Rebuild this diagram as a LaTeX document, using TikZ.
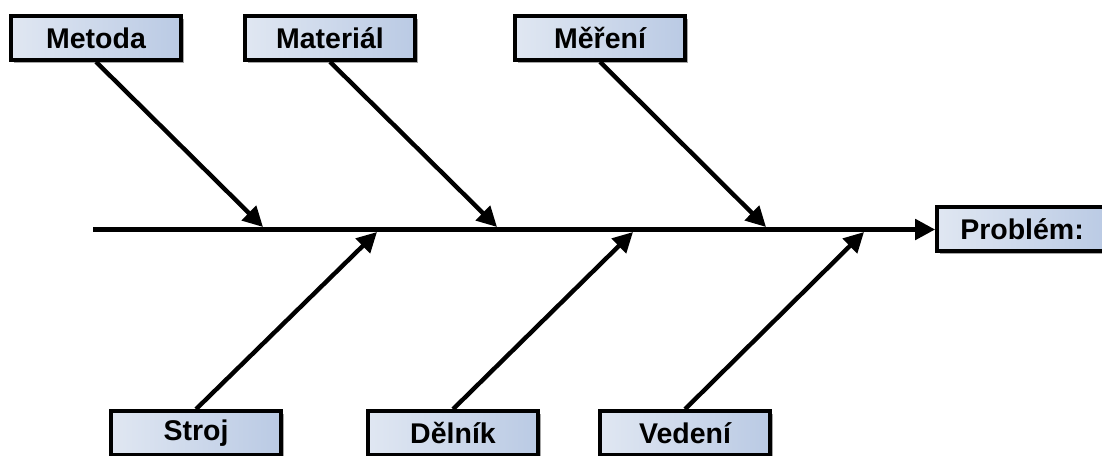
\documentclass[tikz,border=0pt]{standalone}
\usepackage{fontspec}
\setmainfont{Liberation Sans}
\usetikzlibrary{arrows.meta,shadows}
\definecolor{boxlight}{RGB}{224,231,242}
\definecolor{boxdark}{RGB}{186,202,228}
\begin{document}
\begin{tikzpicture}[x=1pt,y=-1pt,
  catbox/.style={draw=black, line width=3.6pt, left color=boxlight, right color=boxdark,
    minimum width=170pt, minimum height=44pt, inner sep=0pt,
    font=\fontsize{28.5}{33}\selectfont\bfseries,
    drop shadow={shadow xshift=2.5pt, shadow yshift=-2.5pt, opacity=0.35, fill=black}},
  bone/.style={line width=4.4pt, -{Triangle[length=20pt,width=20pt]}},
  spine/.style={line width=4.8pt, -{Triangle[length=20pt,width=20pt]}}]
  \useasboundingbox (0,0) rectangle (1102,455);

  % category boxes above the spine
  \node[catbox] (metoda)   at (96,38)  {Metoda};
  \node[catbox] (material) at (330,38) {Materiál};
  \node[catbox] (mereni)   at (600,38) {Měření};
  % category boxes below the spine
  \node[catbox] (stroj)    at (196,433) {Stroj};
  \node[catbox] (delnik)   at (453,433) {Dělník};
  \node[catbox] (vedeni)   at (685,433) {Vedení};
  % effect box
  \node[catbox] (problem)  at (1022,229) {Problém:};

  % spine
  \coordinate (tail) at (93,229.5);
  \draw[spine] (tail) -- (problem.west |- tail);

  % where the bones meet the spine
  \coordinate (j1) at (263,227);
  \coordinate (j2) at (497,227);
  \coordinate (j3) at (766,227);
  \coordinate (j4) at (377,232);
  \coordinate (j5) at (633,232);
  \coordinate (j6) at (864,232);

  \draw[bone] (metoda.south)   -- (j1);
  \draw[bone] (material.south) -- (j2);
  \draw[bone] (mereni.south)   -- (j3);
  \draw[bone] (stroj.north)    -- (j4);
  \draw[bone] (delnik.north)   -- (j5);
  \draw[bone] (vedeni.north)   -- (j6);
\end{tikzpicture}
\end{document}
